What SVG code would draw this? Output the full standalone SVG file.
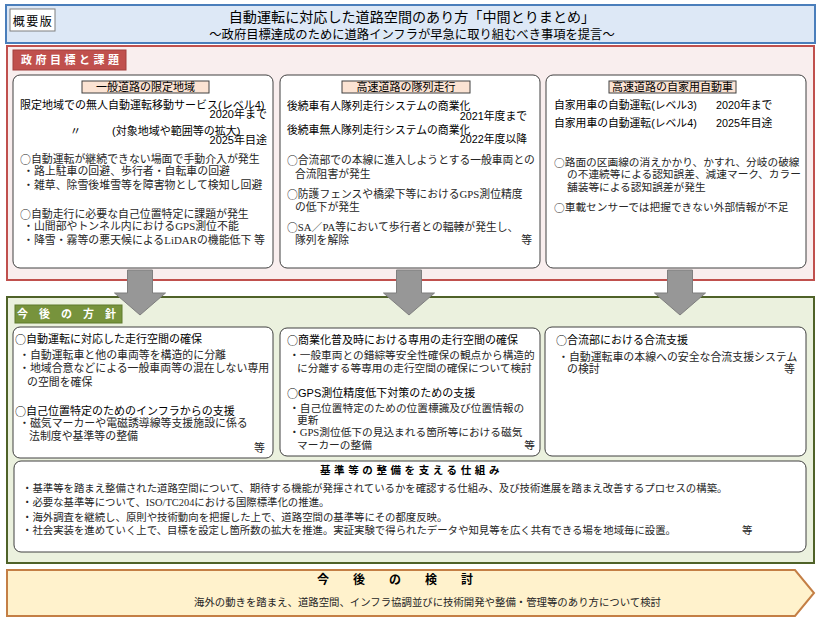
<svg xmlns="http://www.w3.org/2000/svg" width="823" height="623" viewBox="0 0 823 623">
<style>
text { font-family: "Liberation Sans", "Noto Sans CJK JP", sans-serif; dominant-baseline: central; fill: #000; }
.cj { font-family: "Noto Sans CJK JP", "Noto Sans CJK SC", sans-serif; }
.s { font-family: "Liberation Serif", "Noto Sans CJK JP", serif; fill: #262626; }
.box { fill: #fff; stroke: #404040; stroke-width: 1; }
.lab { fill: #fbe3d3; stroke: #404040; stroke-width: 1; }
.wt { fill: #fff; font-weight: bold; }
.arrow { fill: #979797; stroke: #7f7f7f; stroke-width: 1; }
.e { text-anchor: end; }
.c { text-anchor: middle; }
</style>

<g id="header">
  <rect x="6" y="5" width="809" height="38" fill="#dde8f6" stroke="#4a7ebb" stroke-width="2"/>
  <rect x="10" y="9" width="45" height="22" fill="#fff" stroke="#7f7f7f" stroke-width="1"/>
  <text x="33" y="20" class="c cj" font-size="12" letter-spacing="1.5">概要版</text>
  <text x="412" y="16" class="c cj" font-size="14.1">自動運転に対応した道路空間のあり方「中間とりまとめ」</text>
  <text x="412" y="34" class="c cj" font-size="12.3">～政府目標達成のために道路インフラが早急に取り組むべき事項を提言～</text>
</g>

<g id="goals">
  <rect x="7" y="46" width="807" height="234" fill="#f9eeee" stroke="#c0504d" stroke-width="2"/>
  <rect x="13" y="50" width="113" height="20" fill="#c0504d" stroke="#a33f3c" stroke-width="1"/>
  <text x="21" y="60" class="wt" font-size="11" letter-spacing="3.5">政府目標と課題</text>
</g>

<g id="goal-general">
  <rect x="13" y="75" width="260" height="193" rx="7" class="box"/>
  <rect x="82" y="81" width="127" height="12" class="lab"/>
  <text x="145.5" y="87" class="c" font-size="11">一般道路の限定地域</text>
  <text x="20" y="105" font-size="11">限定地域での無人自動運転移動サービス(レベル4)</text>
  <text x="267" y="114" class="e" font-size="11">2020年まで</text>
  <text x="70" y="131" font-size="11">〃</text>
  <text x="112" y="131" font-size="11">(対象地域や範囲等の拡大)</text>
  <text x="267" y="140" class="e" font-size="11">2025年目途</text>
  <g font-size="10.9">
    <text x="20" y="159" class="s"><tspan class="cj">○</tspan>自動運転が継続できない場面で手動介入が発生</text>
    <text x="23" y="171" class="s">・路上駐車の回避、歩行者・自転車の回避</text>
    <text x="23" y="185" class="s">・雑草、除雪後堆雪等を障害物として検知し回避</text>
    <text x="20" y="214" class="s"><tspan class="cj">○</tspan>自動走行に必要な自己位置特定に課題が発生</text>
    <text x="23" y="226" class="s">・山間部やトンネル内におけるGPS測位不能</text>
    <text x="23" y="240" class="s">・降雪・霧等の悪天候によるLiDARの機能低下</text>
    <text x="265" y="240" class="s e">等</text>
  </g>
</g>

<g id="goal-platoon">
  <rect x="280" y="75" width="260" height="193" rx="7" class="box"/>
  <rect x="342" y="81" width="128" height="12" class="lab"/>
  <text x="406" y="87" class="c" font-size="11">高速道路の隊列走行</text>
  <text x="287" y="106" font-size="10.8">後続車有人隊列走行システムの商業化</text>
  <text x="527" y="116" class="e" font-size="10.8">2021年度まで</text>
  <text x="287" y="130" font-size="10.8">後続車無人隊列走行システムの商業化</text>
  <text x="527" y="139" class="e" font-size="10.8">2022年度以降</text>
  <g font-size="10.8">
    <text x="287" y="160" class="s"><tspan class="cj">○</tspan>合流部での本線に進入しようとする一般車両との</text>
    <text x="295" y="174" class="s">合流阻害が発生</text>
    <text x="287" y="194" class="s"><tspan class="cj">○</tspan>防護フェンスや橋梁下等におけるGPS測位精度</text>
    <text x="295" y="207" class="s">の低下が発生</text>
    <text x="287" y="227" class="s"><tspan class="cj">○</tspan>SA／PA等において歩行者との輻輳が発生し、</text>
    <text x="295" y="240" class="s">隊列を解除</text>
    <text x="532" y="240" class="s e">等</text>
  </g>
</g>

<g id="goal-private">
  <rect x="546" y="75" width="260" height="193" rx="7" class="box"/>
  <rect x="609" y="81" width="127" height="12" class="lab"/>
  <text x="672.5" y="87" class="c" font-size="11">高速道路の自家用自動車</text>
  <text x="554" y="105" font-size="10.8">自家用車の自動運転(レベル3)</text>
  <text x="716" y="105" font-size="10.8">2020年まで</text>
  <text x="554" y="123" font-size="10.8">自家用車の自動運転(レベル4)</text>
  <text x="716" y="123" font-size="10.8">2025年目途</text>
  <g font-size="10.7">
    <text x="554" y="162" class="s"><tspan class="cj">○</tspan>路面の区画線の消えかかり、かすれ、分岐の破線</text>
    <text x="567" y="174" class="s">の不連続等による認知誤差、減速マーク、カラー</text>
    <text x="567" y="187" class="s">舗装等による認知誤差が発生</text>
    <text x="554" y="207" class="s"><tspan class="cj">○</tspan>車載センサーでは把握できない外部情報が不足</text>
  </g>
</g>

<g id="policy">
  <rect x="7" y="297" width="807" height="266" fill="#ebf1de" stroke="#4f6228" stroke-width="2"/>
  <rect x="15" y="305" width="107" height="18" fill="#77933c" stroke="#5f7a2c" stroke-width="1"/>
  <text x="17" y="314" class="wt" font-size="11" letter-spacing="11">今後の方針</text>
</g>

<g id="policy-space">
  <rect x="13" y="327" width="260" height="131" rx="7" class="box"/>
  <text x="15" y="339" font-size="11"><tspan class="cj">○</tspan>自動運転に対応した走行空間の確保</text>
  <g font-size="10.9">
    <text x="19" y="355" class="s">・自動運転車と他の車両等を構造的に分離</text>
    <text x="19" y="368" class="s">・地域合意などによる一般車両等の混在しない専用</text>
    <text x="27" y="382" class="s">の空間を確保</text>
  </g>
  <text x="15" y="411" font-size="11"><tspan class="cj">○</tspan>自己位置特定のためのインフラからの支援</text>
  <g font-size="10.9">
    <text x="19" y="423" class="s">・磁気マーカーや電磁誘導線等支援施設に係る</text>
    <text x="29" y="436" class="s">法制度や基準等の整備</text>
    <text x="265" y="448" class="s e">等</text>
  </g>
</g>

<g id="policy-platoon">
  <rect x="280" y="328" width="260" height="128" rx="7" class="box"/>
  <text x="287" y="340" font-size="11"><tspan class="cj">○</tspan>商業化普及時における専用の走行空間の確保</text>
  <g font-size="10.7">
    <text x="289" y="355" class="s">・一般車両との錯綜等安全性確保の観点から構造的</text>
    <text x="297" y="368" class="s">に分離する等専用の走行空間の確保について検討</text>
  </g>
  <text x="287" y="393" font-size="11"><tspan class="cj">○</tspan>GPS測位精度低下対策のための支援</text>
  <g font-size="10.7">
    <text x="289" y="408" class="s">・自己位置特定のための位置標識及び位置情報の</text>
    <text x="297" y="420" class="s">更新</text>
    <text x="289" y="432" class="s">・GPS測位低下の見込まれる箇所等における磁気</text>
    <text x="297" y="445" class="s">マーカーの整備</text>
    <text x="535" y="445" class="s e">等</text>
  </g>
</g>

<g id="policy-merge">
  <rect x="545" y="327" width="261" height="129" rx="7" class="box"/>
  <text x="556" y="340" font-size="11"><tspan class="cj">○</tspan>合流部における合流支援</text>
  <g font-size="10.9">
    <text x="558" y="357" class="s">・自動運転車の本線への安全な合流支援システム</text>
    <text x="567" y="369" class="s">の検討</text>
    <text x="795" y="369" class="s e">等</text>
  </g>
</g>

<g id="standards">
  <rect x="14" y="461" width="792" height="91" rx="7" class="box"/>
  <text x="320" y="470" font-size="10.5" font-weight="bold" letter-spacing="3.6">基準等の整備を支える仕組み</text>
  <g font-size="10.4">
    <text x="22" y="488" class="s">・基準等を踏まえ整備された道路空間について、期待する機能が発揮されているかを確認する仕組み、及び技術進展を踏まえ改善するプロセスの構築。</text>
    <text x="22" y="502" class="s">・必要な基準等について、ISO/TC204における国際標準化の推進。</text>
    <text x="22" y="517" class="s">・海外調査を継続し、原則や技術動向を把握した上で、道路空間の基準等にその都度反映。</text>
    <text x="22" y="530" class="s">・社会実装を進めていく上で、目標を設定し箇所数の拡大を推進。実証実験で得られたデータや知見等を広く共有できる場を地域毎に設置。</text>
    <text x="742" y="530" class="s">等</text>
  </g>
</g>

<g id="future">
  <polygon points="7,570 795,570 814,593 795,616 7,616" fill="#fff2cc" stroke="#c47f45" stroke-width="2"/>
  <text x="317" y="580" font-size="12" font-weight="bold" letter-spacing="24">今後の検討</text>
  <text x="194" y="602" class="s" font-size="10.4">海外の動きを踏まえ、道路空間、インフラ協調並びに技術開発や整備・管理等のあり方について検討</text>
</g>

<g id="connectors">
  <path class="arrow" d="M127.5,270 h25 v23 h13 L140,315 L114.5,293 h13 z"/>
  <path class="arrow" d="M396.5,270 h25 v23 h13 L409,315 L383.5,293 h13 z"/>
  <path class="arrow" d="M667.5,270 h25 v23 h13 L680,315 L654.5,293 h13 z"/>
</g>
</svg>
